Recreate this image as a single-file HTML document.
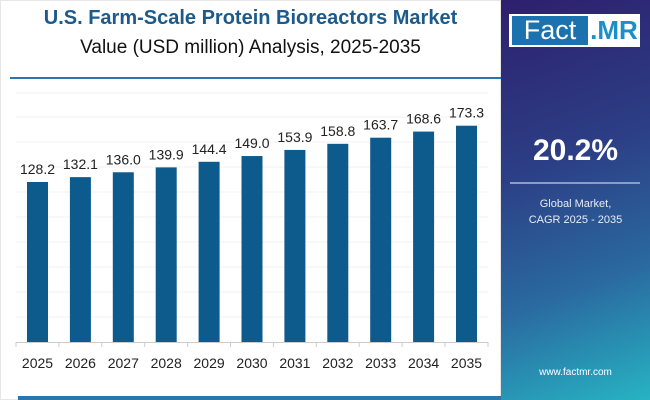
<!DOCTYPE html><html><head><style>
body{margin:0;width:650px;height:400px;overflow:hidden;background:#fff;font-family:"Liberation Sans",sans-serif;position:relative}
.t{position:absolute;left:0;width:501px;text-align:center}
</style></head><body>
<div style="position:absolute;left:0;top:0;width:501px;height:400px;border:1px solid #e6e6e6;box-sizing:border-box"></div>
<div class="t" style="top:7px;font-size:20px;font-weight:bold;color:#1d5a8c">U.S. Farm-Scale Protein Bioreactors Market</div>
<div class="t" style="top:37px;font-size:19px;color:#111">Value (USD million) Analysis, 2025-2035</div>
<div style="position:absolute;left:10px;top:77px;width:491px;height:2px;background:#2a77ad"></div>
<div style="position:absolute;left:18px;top:396px;width:483px;height:4px;background:#2a77ad"></div>
<svg width="501" height="400" style="position:absolute;left:0;top:0" font-family="Liberation Sans, sans-serif">
<g stroke="#f0f0f0"><line x1="16" x2="488" y1="93" y2="93"/><line x1="16" x2="488" y1="117" y2="117"/><line x1="16" x2="488" y1="142" y2="142"/><line x1="16" x2="488" y1="167" y2="167"/><line x1="16" x2="488" y1="192" y2="192"/><line x1="16" x2="488" y1="217" y2="217"/><line x1="16" x2="488" y1="242" y2="242"/><line x1="16" x2="488" y1="267" y2="267"/><line x1="16" x2="488" y1="292" y2="292"/><line x1="16" x2="488" y1="317" y2="317"/></g>
<line x1="16" x2="488" y1="342.5" y2="342.5" stroke="#ccc"/>
<g id="b"></g>
</svg>
<script>
var v=[128.2,132.1,136.0,139.9,144.4,149.0,153.9,158.8,163.7,168.6,173.3],s='';
for(var i=0;i<11;i++){var c=37.5+i*42.9,h=v[i]*1.248,y=342-h;
s+='<rect x="'+(c-10.5)+'" y="'+y+'" width="21" height="'+h+'" fill="#0d5a8c"/>';
s+='<text x="'+c+'" y="'+(y-8)+'" text-anchor="middle" font-size="14" fill="#222">'+v[i].toFixed(1)+'</text>';
s+='<text x="'+c+'" y="368" text-anchor="middle" font-size="14" fill="#222">'+(2025+i)+'</text>';
s+='<line x1="'+(c-21.5)+'" x2="'+(c-21.5)+'" y1="342" y2="347" stroke="#ccc"/>';}
s+='<line x1="488" x2="488" y1="342" y2="347" stroke="#ccc"/>';
document.getElementById('b').innerHTML=s;
</script>
<div style="position:absolute;left:501px;top:0;width:149px;height:400px;background:linear-gradient(160deg,#2e1f6e 0%,#2c3f86 40%,#2a6aa0 70%,#27b3c3 100%)"></div>
<div style="position:absolute;left:509px;top:14px;width:131px;height:33px;background:#fff"></div>
<div style="position:absolute;left:512px;top:16px;width:76px;height:29px;background:#1b72ae;color:#fff;font-size:27px;line-height:29px;text-align:center">Fact</div>
<div style="position:absolute;left:588px;top:16px;width:52px;height:29px;color:#1b8fc7;font-size:26px;font-weight:bold;line-height:29px;text-align:center">.MR</div>
<div style="position:absolute;left:501px;top:134px;width:149px;text-align:center;color:#fff;font-size:30px;font-weight:bold">20.2%</div>
<div style="position:absolute;left:510px;top:182px;width:130px;height:2px;background:#8c9cc4"></div>
<div style="position:absolute;left:501px;top:196px;width:149px;text-align:center;color:#e8ecf5;font-size:11px;line-height:16px">Global Market,<br>CAGR 2025 - 2035</div>
<div style="position:absolute;left:501px;top:367px;width:149px;text-align:center;color:#fff;font-size:10px">www.factmr.com</div>
</body></html>
